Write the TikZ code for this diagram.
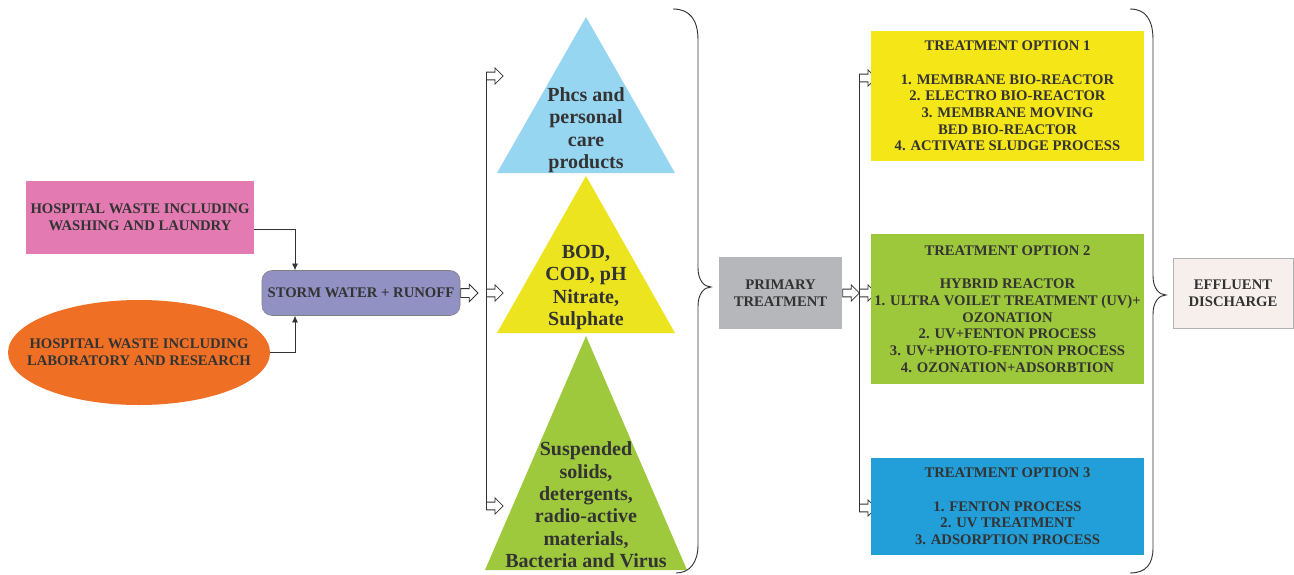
\documentclass[tikz,border=0pt]{standalone}
\usepackage{fontspec}
\setmainfont{Liberation Serif}
\usetikzlibrary{shapes.geometric, shapes.arrows, arrows.meta, positioning, calc}

\definecolor{txtgray}{HTML}{333333}
\definecolor{washpink}{HTML}{E47AB2}
\definecolor{laborange}{HTML}{EF7024}
\definecolor{stormblue}{HTML}{9191C4}
\definecolor{tblue}{HTML}{97D6F1}
\definecolor{tyellow}{HTML}{ECE41F}
\definecolor{tgreen}{HTML}{9FC93C}
\definecolor{oyellow}{HTML}{F5E617}
\definecolor{ogreen}{HTML}{9EC83B}
\definecolor{oblue}{HTML}{229ED8}
\definecolor{primgray}{HTML}{B6B7BB}
\definecolor{effbeige}{HTML}{F7EFEB}

\tikzset{
  box/.style={inner sep=0pt, align=center, text=txtgray,
    font=\fontsize{11}{12.5}\selectfont\bfseries},
  tri/.style={align=center, text=txtgray,
    font=\fontsize{15}{16.8}\selectfont\bfseries},
  conn/.style={draw=txtgray, line width=0.6pt, -{Latex[length=5pt, width=4.5pt]}},
  openarr/.style={single arrow, draw=txtgray, fill=white, line width=0.6pt,
    inner xsep=0pt, inner ysep=2.6pt, single arrow head extend=3.2pt,
    minimum height=12.5pt, anchor=tail},
  brace/.style={draw=txtgray, line width=0.7pt},
}

\begin{document}
\begin{tikzpicture}[x=0.75pt, y=-0.75pt]
  \useasboundingbox[fill=white] (0,0) rectangle (1294,574);

  \node[box, fill=washpink, minimum width=171pt, minimum height=54.75pt] (wash) at (140,217.5)
    {HOSPITAL WASTE INCLUDING\\WASHING AND LAUNDRY};
  \node[ellipse, fill=laborange, minimum width=196.5pt, minimum height=78.75pt] (lab) at (139,352.5) {};
  \node[box] at (lab.center) {HOSPITAL WASTE INCLUDING\\LABORATORY AND RESEARCH};
  \node[box, draw=gray, fill=stormblue, rounded corners=7.5pt, minimum width=148.5pt,
    minimum height=33.75pt] (storm) at (361,293) {STORM WATER + RUNOFF};

  \draw[conn] ([yshift=-9pt]wash.east) -| ([xshift=-49.5pt]storm.north);
  \draw[conn] (lab.east) -| ([xshift=-49.5pt]storm.south);
  \node[openarr, minimum height=13pt, inner ysep=3pt] (s1) at (storm.east) {};

  \coordinate (b1) at (486,76);
  \coordinate (b2) at (486,293);
  \coordinate (b3) at (486,506);
  \node[openarr] (a1) at (b1) {};
  \node[openarr] (a2) at (b2) {};
  \node[openarr] (a3) at (b3) {};
  \draw[draw=txtgray, line width=0.6pt] (a1.tail) -- (a3.tail);

  \fill[tblue] (586,17) -- (675,173) -- (497,173) -- cycle;
  \fill[tyellow] (586,176) -- (675,333) -- (497,333) -- cycle;
  \fill[tgreen] (586,336) -- (687,570) -- (485,570) -- cycle;
  \node[tri] (phcs) at (586,130) {Phcs and\\personal\\care\\products};
  \node[tri] (bod) at (586,287.5) {BOD,\\COD, pH\\Nitrate,\\Sulphate};
  \node[tri] (susp) at (586,505) {Suspended\\solids,\\detergents,\\radio-active\\materials,\\Bacteria and Virus};

  \draw[brace] (673,9) .. controls (690,9) and (698,20) .. (698,40) -- (698,268)
    .. controls (698,280) and (704,287) .. (711,287)
    .. controls (704,287) and (698,294) .. (698,306) -- (698,545)
    .. controls (698,562) and (690,573) .. (676,573);

  \node[box, fill=primgray, minimum width=92.25pt, minimum height=54pt] (prim) at (780.5,293)
    {PRIMARY\\TREATMENT};
  \node[openarr] (p1) at (prim.east) {};

  \coordinate (c1) at (859,78);
  \coordinate (c2) at (859,293);
  \coordinate (c3) at (859,508);
  \node[openarr] (d1) at (c1) {};
  \node[openarr] (d2) at (c2) {};
  \node[openarr] (d3) at (c3) {};
  \draw[draw=txtgray, line width=0.6pt] (d1.tail) -- (d3.tail);

  \node[box, fill=oyellow, minimum width=204.75pt, minimum height=96.75pt] (opt1) at (1007.5,96)
    {TREATMENT OPTION 1\\[12.5pt]1. MEMBRANE BIO-REACTOR\\2. ELECTRO BIO-REACTOR\\
     3. MEMBRANE MOVING\\BED BIO-REACTOR\\4. ACTIVATE SLUDGE PROCESS};
  \node[box, fill=ogreen, minimum width=204.75pt, minimum height=112.5pt] (opt2) at (1007.5,309)
    {TREATMENT OPTION 2\\[12.5pt]HYBRID REACTOR\\1. ULTRA VOILET TREATMENT (UV)+\\
     OZONATION\\2. UV+FENTON PROCESS\\3. UV+PHOTO-FENTON PROCESS\\4. OZONATION+ADSORBTION};
  \node[box, fill=oblue, minimum width=204.75pt, minimum height=72.75pt] (opt3) at (1007.5,506.5)
    {TREATMENT OPTION 3\\[12.5pt]1. FENTON PROCESS\\2. UV TREATMENT\\3. ADSORPTION PROCESS};

  \draw[brace] (1130,9) .. controls (1146,9) and (1153,20) .. (1153,40) -- (1153,276)
    .. controls (1153,288) and (1159,295) .. (1166,295)
    .. controls (1159,295) and (1153,302) .. (1153,314) -- (1153,548)
    .. controls (1153,564) and (1146,573) .. (1130,573);

  \node[box, draw=gray!60, fill=effbeige, minimum width=90pt, minimum height=52.5pt] (eff) at (1233,293)
    {EFFLUENT\\DISCHARGE};
\end{tikzpicture}
\end{document}
